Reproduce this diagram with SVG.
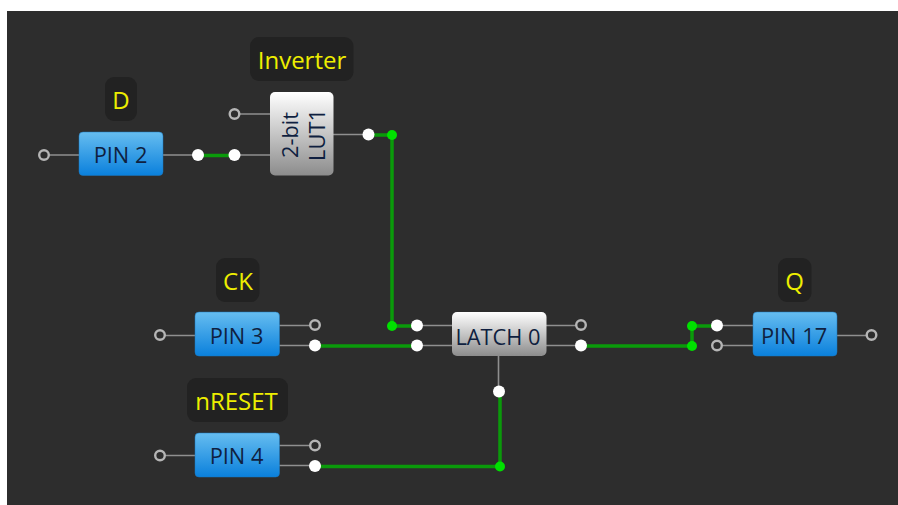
<svg xmlns="http://www.w3.org/2000/svg" width="898" height="505" viewBox="0 0 898 505">
<style>
.stub{stroke:#8f8f8f;stroke-width:1.6;fill:none}
.wire{stroke:#0a9a0a;stroke-width:3.500;fill:none}
.open{fill:#2d2d2d;stroke:#b5b5b5;stroke-width:2.400}
.on{fill:#fff}
.j{fill:#00e000}
.lab{fill:#222;}
.lt{font-family:"Open Sans","Liberation Sans",sans-serif;font-size:24px;fill:#eeee00;text-anchor:middle}
.nt{font-family:"Open Sans","Liberation Sans",sans-serif;font-size:21.800px;fill:#0f1f40;text-anchor:middle}
.blue{fill:url(#b);stroke:#1a78c0;stroke-width:.5}
.grey{fill:url(#g)}
</style>
<defs>
<linearGradient id="b" x1="0" y1="0" x2="0" y2="1"><stop offset="0" stop-color="#66bdf0"/><stop offset="1" stop-color="#0a80dc"/></linearGradient>
<linearGradient id="g" x1="0" y1="0" x2="0" y2="1"><stop offset="0" stop-color="#fff"/><stop offset="1" stop-color="#8c8c8c"/></linearGradient>
</defs>
<rect width="898" height="505" fill="#fff"/>
<rect x="7" y="11" width="891" height="494" fill="#2d2d2d"/>
<g id="connectors">
<path class="stub" d="M44 155H79M163 155H198M234 155H270M234 114H270M333 134.500H369"/>
<path class="stub" d="M160 335.500H195M279 325.500H315M279 345.500H315M417 325.500H452M417 345.500H452M546 325.500H581M546 345.500H581"/>
<path class="stub" d="M160 455.500H195M279 445.500H315M279 465.500H315M498.500 356V392"/>
<path class="stub" d="M717 325.500H753M717 345.500H753M836 335.500H871"/>
<path class="wire" d="M198 155.500H234"/>
<path class="wire" d="M369 135H392V326H417"/>
<path class="wire" d="M315 346H417"/>
<path class="wire" d="M315 466.500H500V392"/>
<path class="wire" d="M581 346H692V326H717"/>
</g>
<g id="dots">
<circle class="j" cx="392" cy="135" r="5"/>
<circle class="j" cx="392" cy="326" r="5"/>
<circle class="j" cx="500" cy="466.500" r="5"/>
<circle class="j" cx="692" cy="326" r="5"/>
<circle class="j" cx="692" cy="346" r="5"/>
<circle class="open" cx="44" cy="155" r="4.800"/>
<circle class="on" cx="198" cy="155" r="6"/>
<circle class="on" cx="234.500" cy="155" r="6"/>
<circle class="open" cx="234.500" cy="114" r="4.800"/>
<circle class="on" cx="368.500" cy="134.500" r="6"/>
<circle class="open" cx="160" cy="335" r="4.800"/>
<circle class="open" cx="315" cy="325" r="4.800"/>
<circle class="on" cx="315" cy="345.500" r="6"/>
<circle class="on" cx="417" cy="325.500" r="6"/>
<circle class="on" cx="417" cy="345.500" r="6"/>
<circle class="on" cx="499" cy="391.500" r="6"/>
<circle class="open" cx="160" cy="455.500" r="4.800"/>
<circle class="open" cx="315" cy="445.500" r="4.800"/>
<circle class="on" cx="315" cy="466" r="6"/>
<circle class="open" cx="581" cy="325" r="4.800"/>
<circle class="on" cx="581" cy="345.500" r="6"/>
<circle class="on" cx="717" cy="325.500" r="6"/>
<circle class="open" cx="717" cy="345.500" r="4.800"/>
<circle class="open" cx="871.500" cy="335" r="4.800"/>
</g>
<g id="pin2"><rect class="blue" x="79" y="132" width="84" height="43.500" rx="4"/><text class="nt" x="120.500" y="163">PIN 2</text></g>
<g id="lut1"><rect class="grey" x="270" y="92" width="63.500" height="83.500" rx="5"/><text class="nt" transform="translate(298,135) rotate(-90)">2-bit</text><text class="nt" transform="translate(324.500,135) rotate(-90)">LUT1</text></g>
<g id="pin3"><rect class="blue" x="195" y="312" width="84.500" height="44" rx="4"/><text class="nt" x="236.500" y="343.500">PIN 3</text></g>
<g id="pin4"><rect class="blue" x="195" y="433" width="84.500" height="44" rx="4"/><text class="nt" x="236.500" y="464">PIN 4</text></g>
<g id="latch0"><rect class="grey" x="452" y="312" width="94.500" height="44" rx="5"/><text class="nt" x="498" y="345">LATCH 0</text></g>
<g id="pin17"><rect class="blue" x="753" y="312" width="84" height="44" rx="4"/><text class="nt" x="794" y="344">PIN 17</text></g>
<g id="label-d"><rect class="lab" x="105" y="77" width="32" height="44" rx="9"/><text class="lt" x="121" y="109">D</text></g>
<g id="label-inverter"><rect class="lab" x="250" y="37" width="103.500" height="44" rx="9"/><text class="lt" x="302" y="69">Inverter</text></g>
<g id="label-ck"><rect class="lab" x="216" y="258" width="43.500" height="44" rx="9"/><text class="lt" x="238" y="290">CK</text></g>
<g id="label-nreset"><rect class="lab" x="187" y="378" width="101" height="44" rx="9"/><text class="lt" x="236.500" y="410">nRESET</text></g>
<g id="label-q"><rect class="lab" x="778" y="258" width="33.500" height="44" rx="9"/><text class="lt" x="794.500" y="290">Q</text></g>
</svg>
